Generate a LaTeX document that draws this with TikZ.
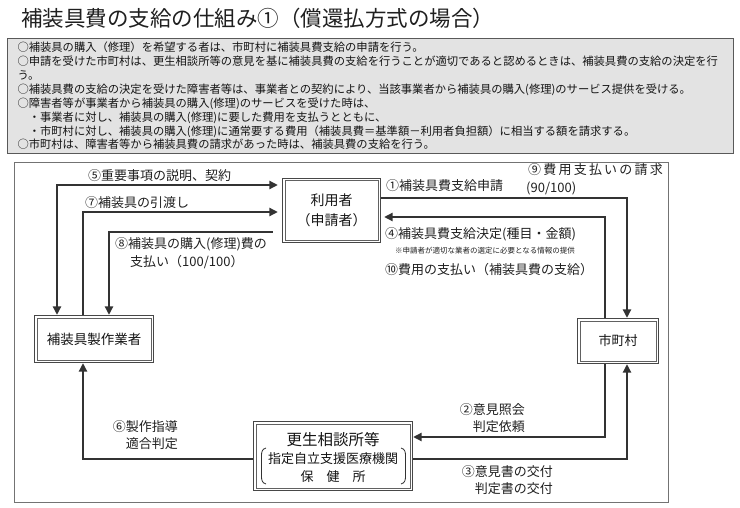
\documentclass[tikz,border=0pt]{standalone}
\usepackage{fontspec}
\setmainfont{Noto Sans CJK JP}
\usetikzlibrary{arrows.meta}
\begin{document}
\begin{tikzpicture}[x=1pt,y=-1pt,
  >={Triangle[length=8.5pt,width=8pt]},
  conn/.style={line width=2.7pt, draw=black!80, line join=miter},
  dbox/.style={draw=black!72, line width=1.2pt, fill=white, inner sep=0pt, text=black!92},
  dinner/.style={draw=black!62, line width=0.8pt},
  lab/.style={font=\fontsize{13}{15}\selectfont, inner sep=0pt, text=black!88},
  bracket/.style={line width=0.8pt, draw=black!80}]
\useasboundingbox (0,0) rectangle (740,508);
% title
\node[anchor=west, inner sep=0pt, font=\fontsize{21.5}{24}\selectfont, text=black!88] (title) at (21,18) {補装具費の支給の仕組み①（償還払方式の場合）};
% notes box
\node[anchor=north west, draw=black!65, fill=black!11, line width=1pt, inner xsep=10pt, inner ysep=3.5pt, text width=706pt, align=left, font=\fontsize{11.3}{13.9}\selectfont, text=black!92] (notes) at (7,38) {○補装具の購入（修理）を希望する者は、市町村に補装具費支給の申請を行う。\\
○申請を受けた市町村は、更生相談所等の意見を基に補装具費の支給を行うことが適切であると認めるときは、補装具費の支給の決定を行\\
う。\\
○補装具費の支給の決定を受けた障害者等は、事業者との契約により、当該事業者から補装具の購入(修理)のサービス提供を受ける。\\
○障害者等が事業者から補装具の購入(修理)のサービスを受けた時は、\\
　・事業者に対し、補装具の購入(修理)に要した費用を支払うとともに、\\
　・市町村に対し、補装具の購入(修理)に通常要する費用（補装具費＝基準額－利用者負担額）に相当する額を請求する。\\
○市町村は、障害者等から補装具費の請求があった時は、補装具費の支給を行う。};
% outer frame
\draw[draw=black!55, line width=0.9pt] (14,162) rectangle (668,502);
% nodes
\node[dbox, minimum width=98pt, minimum height=64pt, align=center, font=\fontsize{14}{20}\selectfont] (user) at (331.5,210.5) {利用者\\（申請者）};
\node[dbox, minimum width=119pt, minimum height=47pt, font=\fontsize{13.5}{16}\selectfont] (maker) at (94,339) {補装具製作業者};
\node[dbox, minimum width=81pt, minimum height=45pt, font=\fontsize{13}{16}\selectfont] (city) at (618,341) {市町村};
\node[dbox, minimum width=159pt, minimum height=69pt] (kosei) at (333,456) {};
\foreach \b in {user,maker,city,kosei}
  \draw[dinner] ([shift={(3pt,-3pt)}]\b.north west) rectangle ([shift={(-3pt,3pt)}]\b.south east);
\node[inner sep=0pt, font=\fontsize{15.5}{18}\selectfont, text=black!92] (k1) at ([yshift=16pt]kosei.center) {更生相談所等};
\node[inner sep=0pt, font=\fontsize{13}{16}\selectfont, text=black!92] (k2) at ([yshift=-3pt]kosei.center) {指定自立支援医療機関};
\node[inner sep=0pt, font=\fontsize{13}{16}\selectfont, text=black!92] (k3) at ([yshift=-21pt]kosei.center) {保　健　所};
\draw[bracket] (266,448) .. controls (262,449) and (261.5,452) .. (261.5,456) -- (261.5,476) .. controls (261.5,480) and (262,483) .. (266,484);
\draw[bracket] (401,448) .. controls (405,449) and (405.5,452) .. (405.5,456) -- (405.5,476) .. controls (405.5,480) and (405,483) .. (401,484);
% connector corners
\coordinate (c5) at (57,185);
\coordinate (c7) at (83,212);
\coordinate (c8) at (109,232);
\coordinate (c1) at (627,198);
\coordinate (c4) at (605,217);
\coordinate (c2) at (605,437);
\coordinate (c3) at (627,459);
\coordinate (c6) at (83,459);
% connectors
\draw[conn, <->, shorten >=4pt] (c5 |- maker.north) -- (c5) -- (c5 -| user.west);
\draw[conn, ->, shorten >=4pt] (c7 |- maker.north) -- (c7) -- (c7 -| user.west);
\draw[conn, ->, shorten <=9pt] (c8 -| user.west) -- (c8) -- (c8 |- maker.north);
\draw[conn, ->] (c1 -| user.east) -- (c1) -- (c1 |- city.north);
\draw[conn, ->, shorten >=3pt] (c4 |- city.north) -- (c4) -- (c4 -| user.east);
\draw[conn, ->] (c2 |- city.south) -- (c2) -- (c2 -| kosei.east);
\draw[conn, ->] (c3 -| kosei.east) -- (c3) -- (c3 |- city.south);
\draw[conn, ->] (c6 -| kosei.west) -- (c6) -- (c6 |- maker.south);
% labels
\node[lab, anchor=west] (l5) at (88,176) {⑤重要事項の説明、契約};
\node[lab, anchor=west] (l7) at (85,203) {⑦補装具の引渡し};
\node[lab, anchor=west] (l8a) at (115,244) {⑧補装具の購入(修理)費の};
\node[lab, anchor=west] (l8b) at (130,262) {支払い（100/100）};
\node[lab, anchor=west] (l1) at (386,186) {①補装具費支給申請};
\node[lab, anchor=west, font=\fontsize{13}{15}\selectfont\addfontfeature{LetterSpace=17}] (l9a) at (528,170) {⑨費用支払いの請求};
\node[lab, anchor=west] (l9b) at (526,188) {(90/100)};
\node[lab, anchor=west] (l4) at (385,234) {④補装具費支給決定(種目・金額)};
\node[lab, anchor=west, font=\fontsize{7.5}{9}\selectfont] (lnote) at (395,251) {※申請者が適切な業者の選定に必要となる情報の提供};
\node[lab, anchor=west] (l10) at (385,270) {⑩費用の支払い（補装具費の支給）};
\node[lab, anchor=east] (l2a) at (525,410) {②意見照会};
\node[lab, anchor=east] (l2b) at (525,427) {判定依頼};
\node[lab, anchor=east] (l3a) at (553,472) {③意見書の交付};
\node[lab, anchor=east] (l3b) at (553,489) {判定書の交付};
\node[lab, anchor=east] (l6a) at (178,427) {⑥製作指導};
\node[lab, anchor=east] (l6b) at (178,444) {適合判定};
\end{tikzpicture}
\end{document}
